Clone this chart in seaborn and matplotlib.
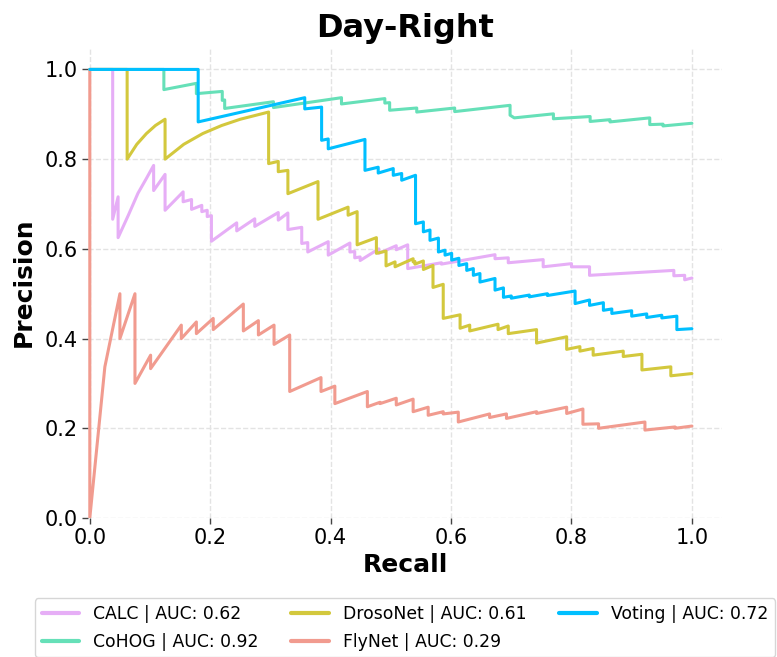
import numpy as np
import pandas as pd
import matplotlib
matplotlib.use("Agg")
import matplotlib.pyplot as plt
import seaborn as sns

# ---------------- data ----------------
methods = ["CALC", "CoHOG", "DrosoNet", "FlyNet", "Voting"]
auc_values = [0.62, 0.92, 0.61, 0.29, 0.72]
colors = ["#e6aef6", "#66e0b8", "#d3c83d", "#f19b8f", "#00bfff"]

calc_recall = [0, 0.038, 0.038, 0.047, 0.047, 0.064, 0.080, 0.094, 0.106, 0.106, 0.125, 0.125,
               0.155, 0.155, 0.169, 0.169, 0.186, 0.186, 0.195, 0.195, 0.202, 0.202, 0.244, 0.244,
               0.274, 0.274, 0.313, 0.313, 0.329, 0.329, 0.352, 0.352, 0.362, 0.362, 0.396, 0.396,
               0.432, 0.432, 0.44, 0.44, 0.449, 0.449, 0.48, 0.48, 0.509, 0.509, 0.528, 0.528,
               0.584, 0.584, 0.673, 0.673, 0.695, 0.695, 0.753, 0.753, 0.80, 0.80, 0.83, 0.83,
               0.97, 0.97, 0.988, 0.988, 1.0]
calc_precision = [1, 1, 0.666, 0.716, 0.625, 0.675, 0.724, 0.757, 0.786, 0.73, 0.766, 0.686,
                  0.727, 0.705, 0.71, 0.688, 0.697, 0.683, 0.686, 0.672, 0.674, 0.617, 0.658, 0.64,
                  0.667, 0.65, 0.681, 0.664, 0.68, 0.643, 0.648, 0.612, 0.614, 0.593, 0.616, 0.586,
                  0.613, 0.593, 0.594, 0.58, 0.582, 0.574, 0.60, 0.59, 0.607, 0.598, 0.609, 0.556,
                  0.569, 0.566, 0.587, 0.578, 0.58, 0.569, 0.576, 0.56, 0.567, 0.56, 0.56, 0.541,
                  0.552, 0.54, 0.541, 0.531, 0.535]

cohog_recall = [0, 0.123, 0.123, 0.177, 0.177, 0.22, 0.22, 0.224, 0.224, 0.305, 0.305, 0.418,
                0.418, 0.49, 0.49, 0.498, 0.498, 0.543, 0.543, 0.606, 0.606, 0.698, 0.698, 0.705,
                0.77, 0.77, 0.831, 0.831, 0.864, 0.864, 0.93, 0.93, 0.952, 0.952, 1.0]
cohog_precision = [1, 1, 0.955, 0.969, 0.946, 0.951, 0.931, 0.932, 0.913, 0.928, 0.915, 0.937,
                   0.923, 0.935, 0.925, 0.926, 0.909, 0.914, 0.905, 0.914, 0.906, 0.92, 0.898, 0.892,
                   0.901, 0.89, 0.895, 0.884, 0.888, 0.883, 0.892, 0.877, 0.878, 0.874, 0.88]

droso_recall = [0, 0.062, 0.062, 0.078, 0.094, 0.109, 0.125, 0.125, 0.156, 0.1875, 0.219, 0.25,
                0.297, 0.297, 0.313, 0.313, 0.329, 0.329, 0.379, 0.379, 0.429, 0.429, 0.444, 0.444,
                0.476, 0.476, 0.492, 0.492, 0.507, 0.507, 0.537, 0.537, 0.54, 0.54, 0.554, 0.554,
                0.57, 0.57, 0.587, 0.587, 0.615, 0.615, 0.631, 0.631, 0.678, 0.678, 0.695, 0.695,
                0.742, 0.742, 0.792, 0.792, 0.814, 0.814, 0.836, 0.836, 0.886, 0.886, 0.917, 0.917,
                0.965, 0.965, 1.0]
droso_precision = [1, 1, 0.8, 0.833, 0.857, 0.875, 0.889, 0.8, 0.833, 0.857, 0.875, 0.889,
                   0.905, 0.79, 0.795, 0.772, 0.775, 0.723, 0.75, 0.666, 0.693, 0.675, 0.683, 0.609,
                   0.625, 0.59, 0.595, 0.562, 0.571, 0.56, 0.578, 0.571, 0.572, 0.566, 0.573, 0.554,
                   0.563, 0.514, 0.521, 0.445, 0.453, 0.423, 0.43, 0.417, 0.432, 0.42, 0.428, 0.411,
                   0.42, 0.39, 0.404, 0.376, 0.382, 0.372, 0.378, 0.363, 0.372, 0.36, 0.365, 0.33,
                   0.337, 0.317, 0.322]

fly_recall = [0, 0, 0.025, 0.05, 0.05, 0.075, 0.075, 0.101, 0.101, 0.152, 0.152, 0.177, 0.177,
              0.205, 0.205, 0.255, 0.255, 0.28, 0.28, 0.306, 0.306, 0.332, 0.332, 0.384, 0.384,
              0.407, 0.407, 0.461, 0.461, 0.482, 0.482, 0.509, 0.509, 0.537, 0.537, 0.562, 0.562,
              0.587, 0.587, 0.612, 0.612, 0.664, 0.664, 0.692, 0.692, 0.742, 0.742, 0.792, 0.792,
              0.819, 0.819, 0.845, 0.845, 0.922, 0.922, 0.972, 0.972, 1.0]
fly_precision = [1, 0, 0.337, 0.5, 0.4, 0.5, 0.3, 0.363, 0.333, 0.43, 0.4, 0.437, 0.411,
                 0.445, 0.42, 0.477, 0.417, 0.44, 0.408, 0.43, 0.387, 0.408, 0.282, 0.313, 0.282,
                 0.294, 0.255, 0.282, 0.248, 0.258, 0.255, 0.267, 0.252, 0.265, 0.237, 0.247, 0.229,
                 0.237, 0.232, 0.236, 0.214, 0.232, 0.224, 0.232, 0.222, 0.237, 0.233, 0.247, 0.233,
                 0.243, 0.209, 0.21, 0.2, 0.214, 0.196, 0.203, 0.2, 0.205]

voting_recall = [0, 0.18, 0.18, 0.357, 0.357, 0.385, 0.385, 0.396, 0.396, 0.457, 0.457, 0.479,
                 0.479, 0.504, 0.504, 0.518, 0.518, 0.541, 0.541, 0.554, 0.554, 0.565, 0.565,
                 0.579, 0.579, 0.59, 0.59, 0.601, 0.601, 0.613, 0.613, 0.626, 0.626, 0.637, 0.637,
                 0.648, 0.648, 0.673, 0.673, 0.687, 0.687, 0.70, 0.70, 0.73, 0.73, 0.76, 0.76,
                 0.806, 0.806, 0.83, 0.83, 0.853, 0.853, 0.867, 0.867, 0.90, 0.90, 0.925, 0.925,
                 0.95, 0.95, 0.975, 0.975, 1.0]
voting_precision = [1, 1, 0.883, 0.937, 0.912, 0.916, 0.842, 0.845, 0.823, 0.844, 0.775, 0.782,
                    0.769, 0.779, 0.764, 0.768, 0.753, 0.764, 0.656, 0.66, 0.638, 0.642, 0.619,
                    0.624, 0.593, 0.597, 0.586, 0.59, 0.575, 0.579, 0.563, 0.567, 0.552, 0.556, 0.541,
                    0.545, 0.526, 0.534, 0.508, 0.513, 0.492, 0.495, 0.49, 0.497, 0.493, 0.50, 0.496,
                    0.506, 0.478, 0.486, 0.474, 0.48, 0.463, 0.466, 0.456, 0.462, 0.45, 0.455, 0.447,
                    0.452, 0.446, 0.45, 0.42, 0.422]

x_ticks = [0.0, 0.2, 0.4, 0.6, 0.8, 1.0]
y_ticks = [0.0, 0.2, 0.4, 0.6, 0.8, 1.0]

# ---------------- build table ----------------
series = [(calc_recall, calc_precision), (cohog_recall, cohog_precision),
          (droso_recall, droso_precision), (fly_recall, fly_precision),
          (voting_recall, voting_precision)]
labels = [f"{m} | AUC: {a:.2f}" for m, a in zip(methods, auc_values)]
frames = []
for lab, (r, p) in zip(labels, series):
    frames.append(pd.DataFrame({"Recall": r, "Precision": p, "Method": lab}))
df = pd.concat(frames, ignore_index=True)
palette = dict(zip(labels, colors))

# ---------------- style ----------------
sns.set_theme(style="whitegrid")
plt.rcParams['font.family'] = ['DejaVu Sans']
plt.rcParams.update({
    "grid.linestyle": "--",
    "grid.color": "#e3e3e3",
    "grid.linewidth": 1.0,
    "xtick.bottom": True,
    "ytick.left": True,
    "xtick.color": "#444444",
    "ytick.color": "#444444",
    "xtick.labelcolor": "black",
    "ytick.labelcolor": "black",
    "text.color": "black",
    "axes.labelcolor": "black",
})

fig = plt.figure(figsize=(7.77, 6.57), dpi=100)
W, H = 777, 657
ax = fig.add_axes([88 / W, 1 - 518 / H, (722 - 88) / W, (518 - 47) / H])

sns.lineplot(data=df, x="Recall", y="Precision", hue="Method", hue_order=labels,
             palette=palette, sort=False, estimator=None, units="Method",
             linewidth=2.2, ax=ax)

ax.set_xlim(-0.003, 1.05)
ax.set_ylim(0, 1.05)
ax.set_xticks(x_ticks)
ax.set_yticks(y_ticks)
ax.set_xticklabels([f"{t:.1f}" for t in x_ticks])
ax.set_yticklabels([f"{t:.1f}" for t in y_ticks])
ax.tick_params(axis="both", labelsize=15, length=4, width=1)
ax.set_xlabel("Recall", fontsize=18, fontweight="bold", labelpad=3)
ax.set_ylabel("Precision", fontsize=18, fontweight="bold", labelpad=6)
ax.set_title("Day-Right", fontsize=23, fontweight="bold", pad=7, color="black")
sns.despine(ax=ax, left=True, bottom=True)

leg = ax.legend(loc="upper center", bbox_to_anchor=(0.5, -0.152), ncol=3,
                fontsize=12.4, handlelength=2.2, labelspacing=0.55, frameon=True,
                columnspacing=1.9)
for line in leg.get_lines():
    line.set_linewidth(3)

fig.savefig("out.png", dpi=100)
